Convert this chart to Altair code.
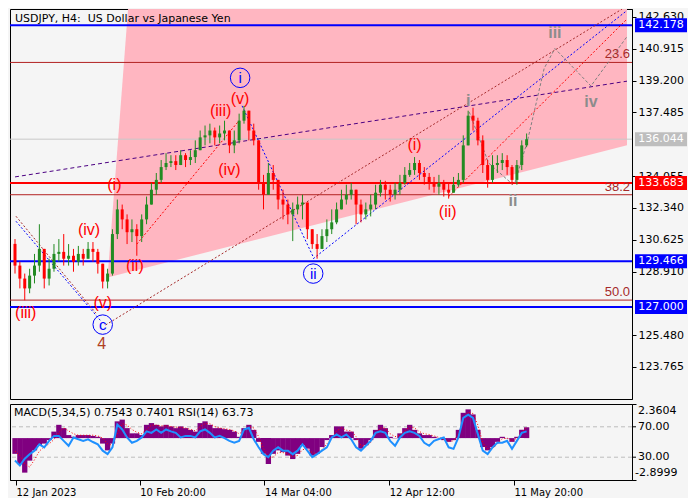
import altair as alt
import pandas as pd

W, H_MAIN, H_SUB = 622, 390, 76

TITLE = "USDJPY, H4:\u00a0\u00a0US Dollar vs Japanese Yen"
IND_TITLE = "MACD(5,34,5) 0.7543 0.7401 RSI(14) 63.73"

# ---------------- price data (one candle per 5 H4 bars) ----------------
slot_bars = list(range(0, 526, 5))
first_open = 130.40
closes = [129.23,128.53,128.00,128.69,129.23,130.13,128.53,129.06,129.86,129.97,
          129.60,129.76,129.44,129.86,129.60,130.13,129.97,129.33,128.37,128.80,
          130.93,132.26,131.72,131.03,131.19,130.82,131.72,132.52,133.32,133.85,
          134.54,134.76,134.86,134.65,135.18,134.92,135.08,135.45,136.14,136.25,
          136.51,136.14,136.35,136.51,135.71,135.98,137.04,137.58,136.51,135.98,
          133.69,133.05,134.22,133.85,132.79,132.52,131.99,132.26,132.52,132.63,
          131.19,130.39,130.13,130.82,131.19,131.56,132.26,132.79,133.05,133.32,
          132.52,131.99,132.26,132.52,133.16,133.59,133.32,133.05,133.32,133.69,
          134.12,134.38,134.76,134.22,134.01,133.69,133.48,133.69,133.32,133.16,
          133.59,133.85,135.71,137.31,137.04,135.98,134.65,133.85,134.65,134.76,
          134.92,134.54,133.85,134.65,135.71,136.04]
highs = [130.66,129.44,128.80,129.06,129.86,131.46,129.60,129.60,130.39,130.66,
         130.93,130.39,130.13,130.29,130.13,130.50,130.50,130.13,129.23,129.06,
         131.19,132.79,132.52,131.99,131.72,131.46,131.99,132.95,133.69,134.22,
         134.92,135.29,135.18,135.18,135.45,135.29,135.45,135.98,136.51,136.78,
         136.88,136.67,136.78,137.04,136.51,136.51,137.42,137.84,137.58,136.88,
         135.98,134.12,134.76,134.65,133.85,133.32,132.79,132.63,132.95,133.05,
         132.52,131.19,130.93,131.19,131.72,132.26,132.63,133.32,133.59,133.69,
         133.32,132.79,132.63,133.05,133.59,133.85,133.80,133.59,133.69,134.12,
         134.54,134.76,135.08,134.92,134.54,134.22,134.01,134.12,133.85,133.69,
         134.01,134.22,136.25,137.58,137.74,137.20,136.25,134.92,135.18,135.18,
         135.29,135.18,134.65,134.92,135.98,136.35]
lows = [128.80,128.00,127.36,127.74,128.27,128.90,128.00,128.16,128.90,129.44,
        129.23,129.23,128.90,129.23,129.23,129.60,129.44,128.80,128.00,128.00,
        128.69,130.66,131.19,130.39,130.50,129.76,130.50,131.46,132.52,133.05,
        133.69,134.38,134.54,134.38,134.65,134.54,134.65,134.76,135.45,135.71,
        135.82,135.71,135.82,135.98,135.29,135.29,135.82,136.88,135.98,135.71,
        133.32,132.26,133.05,133.32,132.26,131.72,131.46,130.55,131.99,131.72,
        130.66,130.13,129.60,130.13,130.50,130.93,131.46,132.26,132.52,132.79,
        131.46,131.56,131.72,131.88,132.26,132.95,132.79,132.68,132.79,133.05,
        133.59,134.01,134.12,133.85,133.59,133.32,133.16,133.05,132.95,132.84,
        133.16,133.48,133.69,135.71,136.51,135.71,134.22,133.43,133.69,134.22,
        134.38,134.12,133.59,133.59,134.38,135.61]

# ---------------- indicator data ----------------
hist = [-1.09,-1.80,-2.39,-1.56,-0.85,-0.50,-0.38,-0.14,0.45,0.92,
        0.69,0.21,0.09,0.21,0.21,0.21,0.15,0.09,-0.38,-0.85,
        -0.38,1.16,1.28,0.69,0.33,0.33,0.21,0.92,1.04,0.92,
        0.81,0.92,0.81,0.69,0.81,0.69,0.57,0.45,1.04,1.16,
        0.92,0.69,0.69,0.62,0.57,0.45,0.09,0.69,0.92,0.57,
        -0.26,-1.09,-1.80,-1.09,-0.85,-0.97,-1.21,-1.45,-1.09,-0.50,
        -0.73,-1.21,-1.09,-0.62,-0.14,0.21,0.81,0.81,0.45,0.45,
        -0.14,-0.73,-0.50,-0.14,0.57,0.92,0.69,0.09,-0.02,0.33,
        0.69,0.92,0.57,0.33,0.21,0.21,0.09,0.00,-0.14,-0.26,
        -0.14,0.57,1.75,1.99,1.64,0.57,-0.62,-0.85,-0.62,-0.26,
        0.09,-0.02,-0.26,0.09,0.57,0.75]
signal = [-0.9,-1.2,-1.8,-2.0,-1.5,-0.9,-0.6,-0.4,-0.1,0.4,
          0.7,0.5,0.3,0.2,0.2,0.2,0.2,0.15,0.0,-0.4,
          -0.5,0.3,1.0,0.9,0.6,0.4,0.3,0.6,0.9,0.9,
          0.85,0.85,0.8,0.75,0.75,0.7,0.6,0.5,0.8,1.0,
          1.0,0.8,0.7,0.65,0.6,0.5,0.3,0.5,0.8,0.7,
          0.1,-0.7,-1.4,-1.3,-1.0,-1.0,-1.1,-1.3,-1.2,-0.8,
          -0.75,-1.0,-1.1,-0.8,-0.4,0.0,0.5,0.7,0.55,0.5,
          0.1,-0.5,-0.55,-0.3,0.3,0.7,0.7,0.3,0.1,0.2,
          0.5,0.8,0.7,0.45,0.3,0.25,0.15,0.05,-0.1,-0.2,
          -0.2,0.3,1.3,1.8,1.7,0.9,-0.3,-0.75,-0.7,-0.4,
          -0.05,0.0,-0.2,0.0,0.4,0.74]
rsi = [25.7,19,28,34,38.6,47,43,51.5,58,58,51.5,45,56,53.6,51.5,53.6,
       50,
       47,38.6,34,43,73,66.5,56,49,51.5,56,64,62,66.5,62,66.5,64,62,56,58,58,56,64,66.5,62,56,58,
       55,
       51.5,49,51.5,66.5,68.7,53.6,43,34,30,38.6,
       43,38.6,38.6,34,38.6,47,38.6,30,34,38.6,
       43,56,60,56,60,53.6,43,38.6,45,51.5,
       62,64,62,51.5,45,56,62,64,62,58,
       49,45,51.5,
       54,
       56,43,41,56,81.6,86,81.6,60,38.6,34,43,49,49,51.5,41,51.5,62,64]

assert len(closes) == len(highs) == len(lows) == len(slot_bars) == len(hist) == len(signal) == len(rsi)

# ---------------- axes ----------------
tick_bars = [1, 128, 256, 384, 512]
tick_labels = ["12 Jan 2023", "10 Feb 20:00", "14 Mar 04:00", "12 Apr 12:00", "11 May 20:00"]
# 135.770 and 127.195 sit fully behind the price boxes in the reference, so they are not labelled
price_ticks = [142.630, 140.915, 139.200, 137.485, 134.055, 132.340,
               130.625, 128.910, 125.480, 123.765]
price_domain = [122.04, 143.06]
bar_domain = [0, 628]

# ---------------- annotations ----------------
level_prices = [142.178, 140.18, 136.044, 133.683, 133.05, 129.466, 127.37, 127.000]
level_colors = ["#0000FF", "#B22222", "#C8C8C8", "#FF0000", "#B22222", "#0000FF", "#B22222", "#0000FF"]
level_widths = [2, 1, 1, 2, 1, 2, 1, 2]

fib_texts = ["23.6", "38.2", "50.0"]
fib_prices = [140.18, 133.05, 127.37]

box_prices = [142.178, 136.044, 133.683, 129.466, 127.000]
box_colors = ["#0000FF", "#BEBEBE", "#FF0000", "#0000FF", "#0000FF"]

pink_bars = [95, 116, 628]
pink_top = [128.59, 143.06, 143.06]
pink_bottom = [128.59, 128.87, 135.71]

purple_lines = [[(0, 134.01), (628, 139.17)]]
blue_lines = [[(1, 131.62), (88, 126.25)], [(233, 137.84), (306, 129.70)], [(306, 129.60), (628, 142.98)]]
brown_lines = [[(1, 131.89), (83, 126.67)], [(93, 126.03), (623, 143.06)]]
red_lines = [[(125, 130.39), (230, 137.05)], [(445, 132.95), (628, 142.52)]]
gray_lines = [[(466, 137.52), (486, 134.76), (511, 133.59)],
              [(513, 133.69), (526, 135.98), (543, 139.86), (554, 140.93), (591, 138.91), (628, 141.57)]]

wave_texts = ["(iii)", "(iv)", "(v)", "(i)", "(ii)", "(iii)", "(iv)", "(v)", "(i)", "(ii)"]
wave_bars = [11, 76, 90, 102, 123, 211, 220, 231, 410, 444]
wave_prices = [126.67, 131.14, 127.20, 133.59, 129.23, 137.58, 134.38, 138.21, 135.71, 132.10]

circ_texts = ["i", "ii", "c"]
circ_bars = [231, 306, 90]
circ_prices = [139.35, 128.80, 126.05]

gray_texts = ["i", "ii", "iii", "iv"]
gray_bars = [465, 511, 554, 591]
gray_prices = [138.11, 132.70, 141.74, 138.06]

four_text, four_bar, four_price = "4", 89, 124.99

# ---------------- build frames ----------------
opens = [first_open] + closes[:-1]
candles = pd.DataFrame([
    dict(bar=b, open=o, close=c, high=max(h, o, c), low=min(l, o, c),
         dir="up" if c >= o else "down")
    for b, o, h, l, c in zip(slot_bars, opens, highs, lows, closes)
])

xs = alt.Scale(domain=bar_domain, nice=False, zero=False)
ys = alt.Scale(domain=price_domain, nice=False, zero=False)
y_axis = alt.Axis(orient="right", values=price_ticks, format=".3f", tickSize=4, labelPadding=2,
                  grid=False, title=None, labelFontSize=11, labelFont="DejaVu Sans",
                  labelColor="black", tickColor="black", domainColor="black",
                  labelOverlap=False, labelFlush=False)
X = alt.X("bar:Q", scale=xs, axis=None)


def Y(field):
    return alt.Y(f"{field}:Q", scale=ys, axis=y_axis)


pink = alt.Chart(pd.DataFrame({"bar": pink_bars, "price": pink_top, "price2": pink_bottom})).mark_area(
    color="#FFB6C1", opacity=1, clip=True).encode(x=X, y=Y("price"), y2="price2:Q")

levels = alt.Chart(pd.DataFrame({"price": level_prices, "color": level_colors, "w": level_widths})).mark_rule().encode(
    y=Y("price"), color=alt.Color("color:N", scale=None), strokeWidth=alt.StrokeWidth("w:Q", scale=None))


def line_layer(segments, color, dash):
    rows = [dict(seg=i, order=j, bar=b, price=p)
            for i, seg in enumerate(segments) for j, (b, p) in enumerate(seg)]
    return alt.Chart(pd.DataFrame(rows)).mark_line(
        color=color, strokeDash=dash, strokeWidth=1, clip=True).encode(
        x=X, y=Y("price"), detail="seg:N", order="order:Q")


lines = [
    line_layer(purple_lines, "#4B0082", [4, 3]),
    line_layer(brown_lines, "#A52A2A", [2, 2]),
    line_layer(blue_lines, "#0000FF", [2, 2]),
    line_layer(red_lines, "#FF0000", [2, 2]),
    line_layer(gray_lines, "#808080", [3, 2]),
]

cscale = alt.Scale(domain=["up", "down"], range=["#228B22", "#FF0000"])
wick = alt.Chart(candles).mark_rule(strokeWidth=1).encode(
    x=X, y=Y("low"), y2="high:Q", color=alt.Color("dir:N", scale=cscale, legend=None))
body = alt.Chart(candles).mark_bar(size=3).encode(
    x=X, y=Y("open"), y2="close:Q", color=alt.Color("dir:N", scale=cscale, legend=None))

waves = alt.Chart(pd.DataFrame({"t": wave_texts, "bar": wave_bars, "price": wave_prices})).mark_text(
    font="Liberation Sans", fontSize=16, color="#FF0000").encode(x=X, y=Y("price"), text="t:N")

circ_df = pd.DataFrame({"t": circ_texts, "bar": circ_bars, "price": circ_prices})
circles = alt.Chart(circ_df).mark_point(shape="circle", size=380, filled=False, color="#0000FF",
                                        strokeWidth=1, opacity=1).encode(x=X, y=Y("price"))
circ_text = alt.Chart(circ_df).mark_text(font="Liberation Sans", fontSize=15, color="#0000FF").encode(
    x=X, y=Y("price"), text="t:N")

gray_text = alt.Chart(pd.DataFrame({"t": gray_texts, "bar": gray_bars, "price": gray_prices})).mark_text(
    font="Liberation Sans", fontSize=16, color="#8C8C8C", fontWeight="bold").encode(x=X, y=Y("price"), text="t:N")

four = alt.Chart(pd.DataFrame({"t": [four_text], "bar": [four_bar], "price": [four_price]})).mark_text(
    font="Liberation Sans", fontSize=16, color="#B0401E").encode(x=X, y=Y("price"), text="t:N")

fibs = alt.Chart(pd.DataFrame({"t": fib_texts, "price": fib_prices})).mark_text(
    align="right", baseline="bottom", dy=-1, font="Liberation Sans", fontSize=13, color="#A52A2A").encode(
    x=alt.value(W - 2), y=Y("price"), text="t:N")

box_df = pd.DataFrame({"price": box_prices, "color": box_colors, "t": [f"{p:.3f}" for p in box_prices]})
boxes = alt.Chart(box_df).mark_rect(yOffset=-7, y2Offset=7).encode(
    x=alt.value(W + 3), x2=alt.value(W + 55), y=Y("price"), y2="price:Q",
    color=alt.Color("color:N", scale=None))
box_text = alt.Chart(box_df).mark_text(color="white", fontSize=11, font="DejaVu Sans").encode(
    x=alt.value(W + 29), y=Y("price"), text="t:N")

title = alt.Chart(pd.DataFrame({"t": [TITLE]})).mark_text(
    align="left", baseline="top", font="DejaVu Sans", fontSize=11, color="black").encode(
    x=alt.value(5), y=alt.value(4), text="t:N")

main = alt.layer(pink, levels, *lines, wick, body, waves, circles, circ_text, gray_text, four,
                 fibs, boxes, box_text, title).properties(width=W, height=H_MAIN)

# ---------------- indicator panel ----------------
mdf = pd.DataFrame({"bar": slot_bars, "hist": hist, "signal": signal, "rsi": rsi, "zero": [0.0] * len(slot_bars)})
ms = alt.Scale(domain=[-2.8999, 2.3604], nice=False, zero=False)
rs = alt.Scale(domain=[0, 100], nice=False, zero=False)
label_expr = " : ".join(f"datum.value == {b} ? '{t}'" for b, t in zip(tick_bars, tick_labels)) + " : ''"
x_axis = alt.Axis(values=tick_bars, labelExpr=label_expr, labelAlign="left", tickSize=5, labelPadding=2,
                  labelFontSize=10, labelFont="DejaVu Sans", labelColor="black", tickColor="black",
                  domainColor="black", grid=False, title=None, labelFlush=False, labelOverlap=False)
XB = alt.X("bar:Q", scale=xs, axis=x_axis)
macd_axis = alt.Axis(orient="right", values=[2.3604, -2.8999], labels=False, tickSize=4, grid=False,
                     title=None, tickColor="black", domainColor="black")

rsi_levels = pd.DataFrame({"v": [70, 30], "t": ["70.00", "30.00"]})
guides = alt.Chart(rsi_levels).mark_rule(color="#BDBDBD", strokeDash=[4, 3]).encode(
    y=alt.Y("v:Q", scale=rs, axis=None))
histo = alt.Chart(mdf).mark_bar(size=5.3, color="#800080").encode(
    x=XB, y=alt.Y("hist:Q", scale=ms, axis=macd_axis), y2="zero:Q")
sig = alt.Chart(mdf).mark_line(color="#FF0000", strokeDash=[1, 2], strokeWidth=1).encode(
    x=XB, y=alt.Y("signal:Q", scale=ms, axis=None))
rsi_line = alt.Chart(mdf).mark_line(color="#1E90FF", strokeWidth=2).encode(
    x=XB, y=alt.Y("rsi:Q", scale=rs, axis=None))
rsi_ticks = alt.Chart(rsi_levels).mark_rule(color="black").encode(
    y=alt.Y("v:Q", scale=rs, axis=None), x=alt.value(W), x2=alt.value(W + 4))
rsi_text = alt.Chart(rsi_levels).mark_text(align="left", font="DejaVu Sans", fontSize=11, color="black").encode(
    y=alt.Y("v:Q", scale=rs, axis=None), x=alt.value(W + 6), text="t:N")
macd_lab = pd.DataFrame({"v": [2.3604, -2.8999], "t": ["2.3604", "-2.8999"]})
macd_top = alt.Chart(macd_lab.iloc[[0]]).mark_text(align="left", dy=7, font="DejaVu Sans", fontSize=11,
                                                     color="black").encode(
    y=alt.Y("v:Q", scale=ms, axis=None), x=alt.value(W + 6), text="t:N")
macd_bot = alt.Chart(macd_lab.iloc[[1]]).mark_text(align="left", dy=-7, font="DejaVu Sans", fontSize=11,
                                                     color="black").encode(
    y=alt.Y("v:Q", scale=ms, axis=None), x=alt.value(W + 3), text="t:N")
ind_title = alt.Chart(pd.DataFrame({"t": [IND_TITLE]})).mark_text(
    align="left", baseline="top", font="DejaVu Sans", fontSize=11, color="black").encode(
    x=alt.value(4), y=alt.value(3), text="t:N")

sub = alt.layer(guides, histo, sig, rsi_line, rsi_ticks, rsi_text, macd_top, macd_bot, ind_title).resolve_scale(
    y="independent").properties(width=W, height=H_SUB)

chart = alt.vconcat(main, sub, spacing=3).properties(
    background="#F5F5F5", padding=0
).configure_view(stroke="black", strokeWidth=1, fill="#F5F5F5")

chart.save("out.html", embed_options={"renderer": "svg", "actions": False})
